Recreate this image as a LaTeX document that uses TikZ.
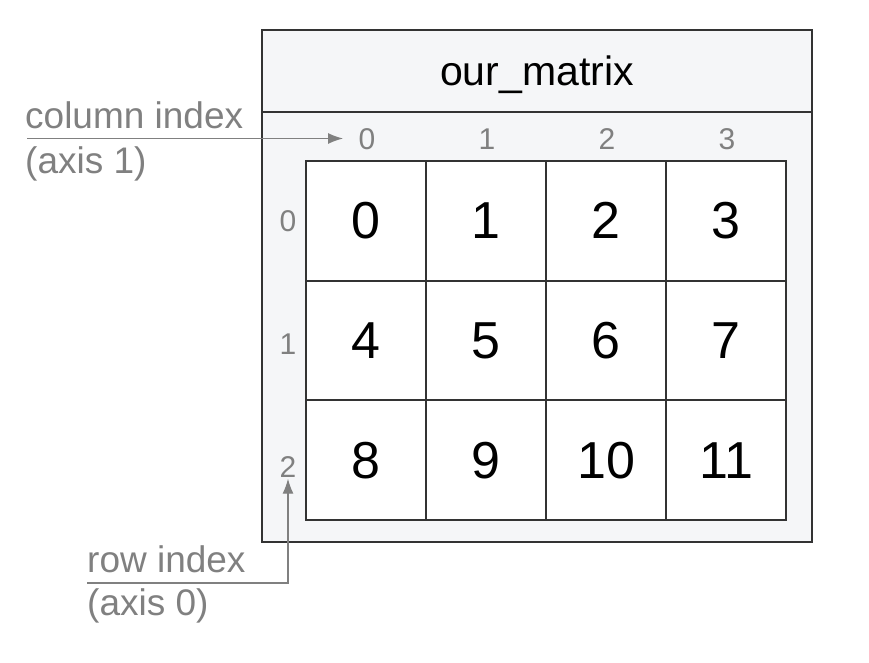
\documentclass[tikz,border=0pt]{standalone}
\usepackage{fontspec}
\setmainfont{Liberation Sans}
\usetikzlibrary{arrows.meta}
\definecolor{boxfill}{HTML}{F5F6F8}
\definecolor{idxgray}{HTML}{808080}
\definecolor{linedark}{HTML}{333333}

\begin{document}
\begin{tikzpicture}[x=1pt, y=-1pt]
      \tikzset{
  every cell/.style={
    rectangle,
    draw=linedark,
    line width=1.8pt,
    fill=white,
    minimum width=120pt,
    minimum height=119.7pt,
    inner sep=0pt,
    font=\fontsize{52}{60}\selectfont
  },
  index label/.style={
    text=idxgray,
    inner sep=0pt,
    text height=21pt,
    text depth=0pt,
    font=\fontsize{30}{34}\selectfont
  },
  axis note/.style={
    text=idxgray,
    inner sep=0pt,
    anchor=base west,
    font=\fontsize{37}{44}\selectfont
  },
  axis arrow/.style={
    -{Latex[length=15pt,width=11pt]},
    draw=idxgray,
    line width=1.2pt
  }
}
\useasboundingbox (0,0) rectangle (869,663);

\node [draw=linedark, line width=1.8pt, fill=boxfill, minimum width=550pt, minimum height=512pt, inner sep=0pt] (frame) at (537,286) {};
\node [draw=linedark, line width=1.8pt, minimum width=550pt, minimum height=82pt, inner sep=0pt] (header) at (537,71) {};
\node [anchor=base, inner sep=0pt, font=\fontsize{41}{48}\selectfont] (title) at (537,86) {our\_matrix};

\foreach \row [count=\r from 0] in {{0,1,2,3},{4,5,6,7},{8,9,10,11}}
  \foreach \v [count=\c from 0] in \row
    \node [every cell] (cell-\r-\c) at (366+120*\c, 220.8+119.7*\r) {\v};

\foreach \c in {0,...,3}
  \node [index label] (col-\c) at (367+120*\c, 139.5) {\c};

\foreach \r in {0,...,2}
  \node [index label] (row-\r) at (288, 221+123*\r) {\r};

% axis arrows
\coordinate (col-tail) at (27,138.5);
\coordinate (row-tail) at (87,583);
\draw [axis arrow, shorten >=24pt] (col-tail) -- (col-0.center |- col-tail);
\draw [axis arrow, shorten >=1pt] (row-tail) -| (row-2.south);

\node [axis note] (col-note) at (25,129) {column index};
\node [axis note] (col-axis) at (25,173) {(axis 1)};
\node [axis note] (row-note) at (87,572) {row index};
\node [axis note] (row-axis) at (87,615) {(axis 0)};
      \end{tikzpicture}
\end{document}
